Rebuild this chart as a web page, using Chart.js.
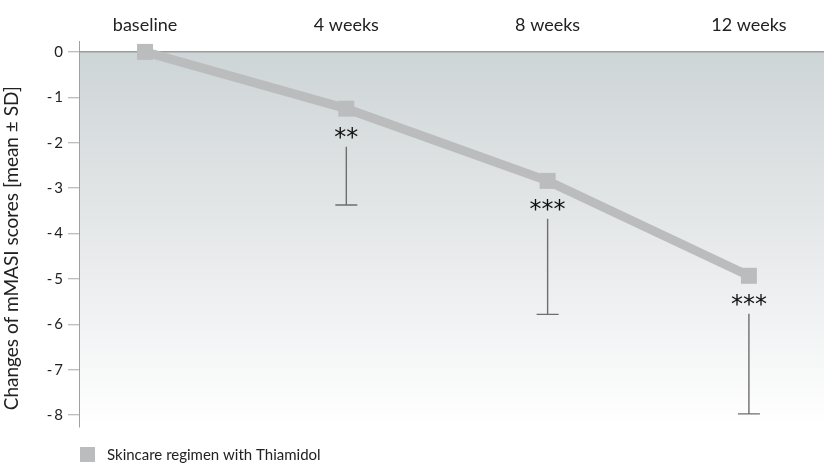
<!DOCTYPE html>
<html>
<head>
<meta charset="utf-8">
<script src="https://cdn.jsdelivr.net/npm/chart.js@4/dist/chart.umd.min.js"></script>
<style>
  html, body { margin: 0; padding: 0; background: #ffffff; }
  #wrap { width: 824px; height: 463px; position: relative; }
</style>
</head>
<body>
<div id="wrap"><canvas id="c" width="824" height="463"></canvas></div>
<script>
// Time points and mMASI change (mean, SD) for the Thiamidol skincare regimen
const timepoints = ['baseline', '4 weeks', '8 weeks', '12 weeks'];
const meanChange = [0, -1.25, -2.84, -4.93];
const sdChange = [0, 2.12, 2.94, 3.04];
const significance = ['', '**', '***', '***'];
const seriesName = 'Skincare regimen with Thiamidol';
const yTitle = 'Changes of mMASI scores [mean ± SD]';
const yTicks = [0, -1, -2, -3, -4, -5, -6, -7, -8];

const FONT = 'Lato, "Open Sans", sans-serif';
const LINE_GREY = '#bbbcbe';

// Shaded backdrop below the zero line
const backdrop = {
  id: 'backdrop',
  beforeDraw(chart) {
    const { ctx, chartArea, scales } = chart;
    const y0 = scales.y.getPixelForValue(0);
    const g = ctx.createLinearGradient(0, y0, 0, chartArea.bottom);
    g.addColorStop(0, '#ced5d7');
    g.addColorStop(0.55, '#e9ebec');
    g.addColorStop(1, '#ffffff');
    ctx.save();
    ctx.fillStyle = g;
    ctx.fillRect(chartArea.left, y0, chartArea.right - chartArea.left, chartArea.bottom - y0);
    ctx.restore();
  }
};

// Lower SD whiskers with significance stars under each point
const whiskers = {
  id: 'whiskers',
  afterDatasetsDraw(chart) {
    const { ctx, scales } = chart;
    ctx.save();
    meanChange.forEach((m, i) => {
      if (!sdChange[i]) return;
      const x = scales.x.getPixelForValue(i);
      const yPt = scales.y.getPixelForValue(m);
      const yEnd = scales.y.getPixelForValue(m - sdChange[i]);
      ctx.strokeStyle = '#6e6e6e';
      ctx.lineWidth = 1.4;
      ctx.beginPath();
      ctx.moveTo(x, yPt + 38);
      ctx.lineTo(x, yEnd);
      ctx.moveTo(x - 11, yEnd);
      ctx.lineTo(x + 11, yEnd);
      ctx.stroke();
      ctx.fillStyle = '#111111';
      ctx.font = '24px "DejaVu Sans", sans-serif';
      ctx.textAlign = 'center';
      ctx.textBaseline = 'middle';
      ctx.fillText(significance[i], x, yPt + 30);
    });
    ctx.restore();
  }
};

// Legend swatch and label at the foot of the chart
const footLegend = {
  id: 'footLegend',
  afterDraw(chart) {
    const { ctx, chartArea } = chart;
    ctx.save();
    ctx.fillStyle = LINE_GREY;
    ctx.fillRect(chartArea.left + 1, 447, 15, 15);
    ctx.fillStyle = '#222222';
    ctx.font = '15px ' + FONT;
    ctx.textAlign = 'left';
    ctx.textBaseline = 'middle';
    ctx.fillText(seriesName, chartArea.left + 28, 455);
    ctx.restore();
  }
};

new Chart(document.getElementById('c'), {
  type: 'line',
  data: {
    datasets: [{
      label: seriesName,
      data: meanChange.map((v, i) => ({ x: i, y: v })),
      borderColor: LINE_GREY,
      backgroundColor: LINE_GREY,
      borderWidth: 9,
      pointStyle: 'rect',
      pointRadius: 11.3,
      pointHoverRadius: 11.3,
      pointBorderWidth: 0,
      tension: 0,
      clip: false
    }]
  },
  options: {
    responsive: false,
    animation: false,
    layout: { autoPadding: false, padding: { left: 0, right: 0, top: 0, bottom: 36 } },
    plugins: { legend: { display: false }, tooltip: { enabled: false } },
    scales: {
      x: {
        type: 'linear',
        position: 'top',
        min: -0.328,
        max: 3.373,
        afterFit(s) { s.height = 41; s.paddingLeft = 0; s.paddingRight = 0; },
        afterBuildTicks(s) { s.ticks = timepoints.map((_, i) => ({ value: i })); },
        ticks: {
          callback: (v) => timepoints[v],
          font: { family: FONT, size: 18 },
          color: '#222222',
          padding: 5,
          maxRotation: 0,
          autoSkip: false
        },
        grid: { display: false, drawTicks: false },
        border: { display: false }
      },
      y: {
        min: -8.26,
        max: 0.24,
        afterFit(s) { s.width = 79; },
        afterBuildTicks(s) { s.ticks = yTicks.map(v => ({ value: v })); },
        ticks: {
          callback: (v) => (v < 0 ? '-\u2009' + Math.abs(v) : String(v)),
          font: { family: FONT, size: 15 },
          color: '#222222',
          padding: 5
        },
        grid: {
          color: (c) => (c.tick && c.tick.value === 0 ? '#9c9c9c' : 'rgba(0,0,0,0)'),
          lineWidth: 1.5,
          tickColor: '#a8a8a8',
          tickLength: 11,
          tickWidth: 1
        },
        border: { display: true, color: '#a0a0a0', width: 1 },
        title: {
          display: true,
          // trailing spaces nudge the rotated title slightly toward the bottom
          text: yTitle + '\u2002\u2002\u2002',
          font: { family: FONT, size: 19 },
          color: '#222222',
          padding: { top: 0, bottom: 1 }
        }
      }
    }
  },
  plugins: [backdrop, whiskers, footLegend]
});
</script>
</body>
</html>
